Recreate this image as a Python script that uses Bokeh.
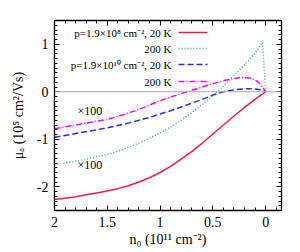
import numpy as np
from bokeh.plotting import figure
from bokeh.models import Range1d, FixedTicker, LinearAxis, Span, Label
from bokeh.embed import file_html
from bokeh.resources import INLINE

# ---- data ----
red_n0 = [2.0, 1.9, 1.8, 1.7, 1.6, 1.5, 1.4, 1.3, 1.2, 1.1, 1.0, 0.9, 0.8, 0.7, 0.6, 0.5, 0.4, 0.3, 0.2, 0.1, 0.0]
red_mu = [-2.27, -2.24, -2.21, -2.17, -2.13, -2.09, -2.04, -1.98, -1.90, -1.81, -1.70, -1.57, -1.42, -1.26,
          -1.08, -0.89, -0.70, -0.51, -0.33, -0.16, 0.0]

green_n0 = [2.0, 1.9, 1.8, 1.7, 1.6, 1.5, 1.4, 1.3, 1.2, 1.1, 1.0, 0.9, 0.8, 0.7, 0.6, 0.5, 0.4, 0.3, 0.2, 0.1,
            0.03, 0.0]
green_mu = [-1.53, -1.50, -1.46, -1.42, -1.37, -1.32, -1.25, -1.17, -1.08, -0.98, -0.87, -0.74, -0.60, -0.44,
            -0.27, -0.08, 0.12, 0.34, 0.57, 0.81, 1.04, 0.0]

blue_n0 = [2.0, 1.9, 1.8, 1.7, 1.6, 1.5, 1.4, 1.3, 1.2, 1.1, 1.0, 0.9, 0.8, 0.7, 0.6, 0.5, 0.4, 0.3, 0.2, 0.13,
           0.08, 0.04, 0.0]
blue_mu = [-0.96, -0.92, -0.88, -0.84, -0.80, -0.76, -0.71, -0.66, -0.60, -0.54, -0.47, -0.40, -0.32, -0.24,
           -0.16, -0.07, 0.0, 0.04, 0.06, 0.065, 0.055, 0.035, 0.0]

mag_n0 = [2.0, 1.9, 1.8, 1.7, 1.6, 1.5, 1.4, 1.3, 1.2, 1.1, 1.0, 0.9, 0.8, 0.7, 0.6, 0.5, 0.4, 0.3, 0.22, 0.15,
          0.1, 0.06, 0.03, 0.0]
mag_mu = [-0.78, -0.74, -0.70, -0.66, -0.62, -0.58, -0.52, -0.45, -0.37, -0.28, -0.19, -0.11, -0.04, 0.03,
          0.10, 0.17, 0.23, 0.28, 0.30, 0.29, 0.25, 0.18, 0.10, 0.0]

legend_labels = ["p=1.9×10⁸ cm⁻², 20 K", "200 K", "p=1.9×10¹⁰ cm⁻², 20 K", "200 K"]
x_ticks = [2, 1.5, 1, 0.5, 0]
x_tick_labels = ["2", "1.5", "1", "0.5", "0"]
y_ticks = [-2, -1, 0, 1]
y_tick_labels = ["-2", "-1", "0", "1"]
x_title = "n₀ (10¹¹ cm⁻²)"
y_title = "μₐ (10⁵ cm²/Vs)"
scale_note = "×100"

FONT = "Times"
colors = ["#e8204a", "#33c070", "#2a2aff", "#ff00ff"]
dashes = ["solid", "1 2", "6 3", "6 2 1 2"]

X0, X1 = 2.0, -0.15
Y0, Y1 = -2.5, 1.5

p = figure(width=300, height=252, output_backend="svg", toolbar_location=None,
           x_range=Range1d(X0, X1), y_range=Range1d(Y0, Y1),
           min_border_left=54, min_border_right=19, min_border_top=20, min_border_bottom=42,
           x_axis_location="below", y_axis_location="left")
p.grid.visible = False
p.outline_line_color = "black"
p.outline_line_width = 1.3
p.background_fill_color = "white"
p.border_fill_color = "white"

xminor = list(np.round(np.arange(-0.1, 2.0001, 0.1), 3))
yminor = list(np.round(np.arange(-2.5, 1.5001, 0.1), 3))

def style(ax, ticks, minor, labels, show):
    ax.ticker = FixedTicker(ticks=ticks, minor_ticks=minor)
    ax.major_tick_in = 5
    ax.major_tick_out = 0
    ax.minor_tick_in = 3
    ax.minor_tick_out = 0
    ax.axis_line_color = "black"
    ax.major_tick_line_color = "black"
    ax.minor_tick_line_color = "black"
    ax.major_label_text_font = FONT
    ax.major_label_text_color = "black"
    ax.major_label_text_font_size = "14px"
    ax.axis_label_text_font = FONT
    ax.axis_label_text_font_size = "14px"
    ax.axis_label_text_font_style = "normal"
    ax.axis_label_text_color = "black"
    if show:
        ax.major_label_overrides = {t: l for t, l in zip(ticks, labels)}
        ax.major_label_standoff = 6
    else:
        ax.major_label_overrides = {t: "" for t in ticks}
        ax.major_label_standoff = 0

style(p.xaxis[0], x_ticks, xminor, x_tick_labels, True)
style(p.yaxis[0], y_ticks, yminor, y_tick_labels, True)
p.xaxis[0].axis_label = x_title
p.xaxis[0].axis_label_standoff = 2
p.yaxis[0].axis_label = y_title
p.yaxis[0].axis_label_standoff = 8

ax_top = LinearAxis()
style(ax_top, x_ticks, xminor, x_tick_labels, False)
p.add_layout(ax_top, "above")
ax_right = LinearAxis()
style(ax_right, y_ticks, yminor, y_tick_labels, False)
p.add_layout(ax_right, "right")

p.add_layout(Span(location=0, dimension="width", line_color="#aaaaaa", line_width=1))

series = [(red_n0, red_mu), (green_n0, green_mu), (blue_n0, blue_mu), (mag_n0, mag_mu)]
for (xs, ys), c, d in zip(series, colors, dashes):
    p.line(xs, ys, line_color=c, line_width=1.5, line_dash=d)

# pixel helpers (frame: 227 px wide, 190 px high)
def dx(px):
    return X0 + (px / 227.0) * (X1 - X0)

def dy(py):
    return Y1 - (py / 190.0) * (Y1 - Y0)

# legend (label left, sample right)
row_py = [12, 28, 44, 61]
for lab, c, d, r in zip(legend_labels, colors, dashes, row_py):
    p.add_layout(Label(x=dx(117), y=dy(r), text=lab, text_align="right", text_baseline="middle",
                       text_font=FONT, text_font_size="11px", text_color="black"))
    p.segment(x0=[dx(124)], y0=[dy(r)], x1=[dx(153)], y1=[dy(r)], line_color=c,
              line_width=1.5, line_dash=d)

for py in [90, 144]:
    p.add_layout(Label(x=dx(23), y=dy(py), text=scale_note, text_align="left", text_baseline="middle",
                       text_font=FONT, text_font_size="12px", text_color="black"))

open("out.html", "w").write(file_html(p, INLINE))
